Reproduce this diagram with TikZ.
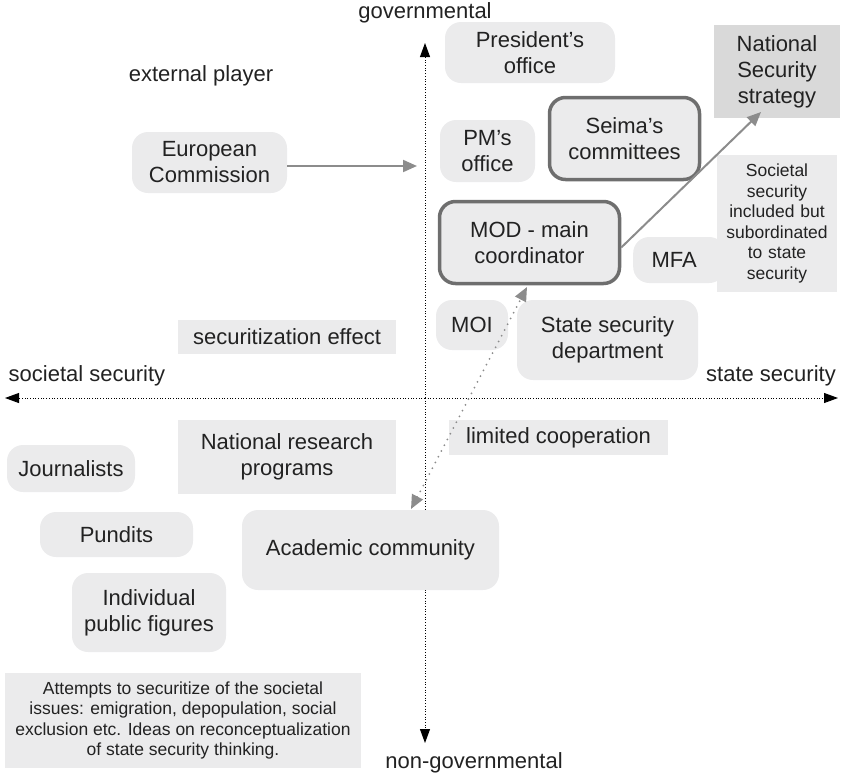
\documentclass[tikz,border=0pt]{standalone}
\usepackage{fontspec}
\setmainfont{Liberation Sans}
\usetikzlibrary{arrows.meta}
\definecolor{boxgray}{HTML}{EBEBEC}
\definecolor{darkbox}{HTML}{D9D9D9}
\definecolor{edgegray}{HTML}{6E6E6E}
\definecolor{linkgray}{HTML}{8C8C8C}
\definecolor{ink}{HTML}{222222}
\begin{document}
\begin{tikzpicture}[x=1pt,y=-1pt,
  base/.style={fill=boxgray, text=ink, align=center, inner sep=0pt,
    font=\fontsize{22}{26}\selectfont},
  soft/.style={base, rounded corners=16pt},
  strong/.style={soft, draw=edgegray, line width=3.5pt},
  small/.style={font=\fontsize{17.5}{20.5}\selectfont},
  label/.style={text=ink, inner sep=0pt, font=\fontsize{22}{26}\selectfont},
  axis/.style={line width=0.9pt, dash pattern=on 0.9pt off 1.8pt,
    -{Triangle[length=14pt,width=10pt]}},
  link/.style={draw=linkgray, line width=2pt,
    -{Triangle[length=14pt,width=12pt]}},
]
\useasboundingbox (0,0) rectangle (843,777);

% axes
\coordinate (vtop) at (425,43);
\coordinate (vbot) at (425,743);
\coordinate (hleft) at (5,398);
\coordinate (hright) at (838,398);
\coordinate (vmid) at (425,398);
\draw[axis] (vmid) -- (vtop);
\draw[axis] (vmid) -- (vbot);
\draw[axis] (vmid) -- (hleft);
\draw[axis] (vmid) -- (hright);

\node[label] (gov) at (425,13) {governmental};
\node[label] (nongov) at (474,763) {non-governmental};
\node[label] (soc) at (87,376) {societal security};
\node[label] (state) at (771,376) {state security};
\node[label] (ext) at (201,76) {external player};

% governmental side
\node[soft, minimum width=170pt, minimum height=61pt] (pres) at (530,52.5) {President's\\office};
\node[base, fill=darkbox, minimum width=126pt, minimum height=93pt] (nss) at (777,71.5) {National\\Security\\strategy};
\node[soft, minimum width=155pt, minimum height=61pt] (ec) at (209.5,162.5) {European\\Commission};
\node[soft, minimum width=95pt, minimum height=62pt] (pm) at (487.5,151) {PM's\\office};
\node[strong, minimum width=150pt, minimum height=82pt] (seima) at (624.5,138.5) {Seima's\\committees};
\node[strong, minimum width=180pt, minimum height=82pt] (mod) at (529.5,242.5) {MOD - main\\coordinator};
\node[soft, minimum width=92pt, minimum height=46pt, anchor=west] (mfa) at (633,260) {MFA\hspace*{10pt}};
\node[base, small, text width=120pt, minimum height=137pt] (subord) at (777,223.5)
  {Societal\\security\\included but\\subordinated\\to state\\security};
\node[soft, minimum width=72pt, minimum height=50pt] (moi) at (472,325) {MOI};
\node[soft, minimum width=181pt, minimum height=80pt] (ssd) at (607.5,340) {State security\\department};
\node[base, minimum width=218pt, minimum height=34pt] (secfx) at (287,337) {securitization effect};

% non-governmental side
\node[base, minimum width=219pt, minimum height=35pt] (limcoop) at (558.5,437.5) {limited cooperation};
\node[base, minimum width=218pt, minimum height=74pt] (nrp) at (287,457) {National research\\programs};
\node[soft, minimum width=128pt, minimum height=47pt] (journ) at (71,468.5) {Journalists};
\node[soft, minimum width=153pt, minimum height=45pt] (pund) at (116.5,534.5) {Pundits};
\node[soft, minimum width=257pt, minimum height=80pt] (acad) at (370.5,550) {Academic community};
\node[soft, minimum width=154pt, minimum height=79pt] (indiv) at (149,612.5) {Individual\\public figures};
\node[base, small, minimum width=356pt, minimum height=95pt] (attempts) at (183,720.5)
  {Attempts to securitize of the societal\\issues: emigration, depopulation, social\\exclusion etc. Ideas on reconceptualization\\of state security thinking.};

% connectors
\coordinate (ectip) at (417,166);
\draw[link] (ec.east |- ectip) -- (ectip);
\coordinate (nsstip) at (761,112);
\draw[link] ([yshift=-5pt]mod.east) -- (nsstip);
\coordinate (modtip) at (527,287);
\coordinate (acadtip) at (411,509);
\draw[draw=linkgray, line width=2pt, line cap=round, dash pattern=on 0pt off 6.5pt,
  {Triangle[length=14pt,width=12pt,fill=linkgray,color=linkgray]}-{Triangle[length=14pt,width=12pt,fill=linkgray,color=linkgray]}]
  (acadtip) -- (modtip);
\end{tikzpicture}
\end{document}
